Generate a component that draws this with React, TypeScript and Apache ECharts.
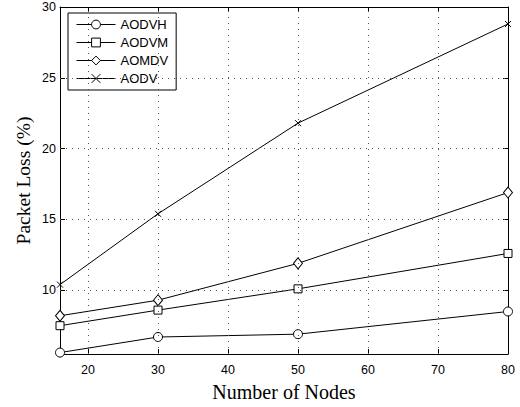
import React, { useEffect, useRef } from "react";
import * as echarts from "echarts";

const nodes = [16, 30, 50, 80];
const aodvh = [5.6, 6.7, 6.9, 8.5];
const aodvm = [7.5, 8.6, 10.1, 12.6];
const aomdv = [8.2, 9.3, 11.9, 16.9];
const aodv = [10.4, 15.4, 21.8, 28.8];
const xTicks = [20, 30, 40, 50, 60, 70, 80];
const yTicks = [10, 15, 20, 25, 30];

const seriesDefs = [
  { name: "AODVH", data: aodvh, symbol: "circle", size: 9 },
  { name: "AODVM", data: aodvm, symbol: "rect", size: 8 },
  { name: "AOMDV", data: aomdv, symbol: "diamond", size: [9, 11] },
  { name: "AODV", data: aodv, symbol: "path://M0,0L10,10M10,0L0,10", size: 6 },
];

export default function App() {
  const ref = useRef<HTMLDivElement>(null);
  useEffect(() => {
    if (!ref.current) return;
    const chart = echarts.init(ref.current, null, { renderer: "svg" });
    const tickFont = { fontFamily: "Liberation Sans", fontSize: 12.5, color: "#000" };
    const axisLine = { show: true, lineStyle: { color: "#000", width: 1 } };
    const gridStyle = { color: "#555", type: [1, 5], width: 1 };
    chart.setOption({
      animation: false,
      backgroundColor: "#fff",
      grid: { left: 60, right: 12, top: 7, bottom: 48, containLabel: false },
      legend: {
        orient: "vertical",
        left: 68,
        top: 13,
        padding: [5, 8, 5, 8],
        itemGap: 5,
        itemWidth: 39,
        itemHeight: 11,
        borderColor: "#000",
        borderWidth: 1,
        backgroundColor: "#fff",
        itemStyle: { borderWidth: 1 },
        lineStyle: { width: 1 },
        textStyle: { fontFamily: "Liberation Sans", fontSize: 13, color: "#000" },
        data: seriesDefs.map((s) => s.name),
      },
      xAxis: [
        {
          type: "value",
          min: 16,
          max: 80,
          position: "bottom",
          axisLine,
          name: "Number of Nodes",
          nameLocation: "middle",
          nameGap: 28,
          nameTextStyle: { fontFamily: "Liberation Serif", fontSize: 20, color: "#000" },
          axisTick: { show: true, inside: true, length: 5, customValues: xTicks, lineStyle: { color: "#000" } },
          axisLabel: { ...tickFont, margin: 9, customValues: xTicks },
          splitLine: { show: false },
        },
        {
          type: "value",
          min: 16,
          max: 80,
          position: "top",
          axisLine,
          axisTick: { show: true, inside: true, length: 5, customValues: xTicks, lineStyle: { color: "#000" } },
          axisLabel: { show: false },
          splitLine: { show: false },
        },
      ],
      yAxis: [
        {
          type: "value",
          min: 5.5,
          max: 30,
          position: "left",
          axisLine,
          name: "Packet Loss (%)",
          nameLocation: "middle",
          nameGap: 27,
          nameMoveOverlap: false,
          nameTextStyle: { fontFamily: "Liberation Serif", fontSize: 19.5, color: "#000" },
          axisTick: { show: true, inside: true, length: 5, customValues: yTicks, lineStyle: { color: "#000" } },
          axisLabel: { ...tickFont, margin: 4, customValues: yTicks },
          splitLine: { show: false },
        },
        {
          type: "value",
          min: 5.5,
          max: 30,
          position: "right",
          axisLine,
          axisTick: { show: true, inside: true, length: 5, customValues: yTicks, lineStyle: { color: "#000" } },
          axisLabel: { show: false },
          splitLine: { show: false },
        },
      ],
      series: [
        {
          name: "grid",
          type: "line",
          data: [],
          silent: true,
          markLine: {
            silent: true,
            symbol: "none",
            label: { show: false },
            lineStyle: gridStyle,
            emphasis: { disabled: true },
            data: [
              ...xTicks.slice(0, -1).map((v) => ({ xAxis: v })),
              ...yTicks.slice(0, -1).map((v) => ({ yAxis: v })),
            ],
          },
          z: 1,
        },
        ...seriesDefs.map((s) => ({
          name: s.name,
          type: "line",
          data: nodes.map((x, i) => [x, s.data[i]]),
          symbol: s.symbol,
          symbolSize: s.size,
          showSymbol: true,
          lineStyle: { color: "#000", width: 1 },
          itemStyle: { color: "#fff", borderColor: "#000", borderWidth: 1 },
          emphasis: { disabled: true },
          z: 3,
        })),
      ],
    });
    return () => chart.dispose();
  }, []);
  return <div ref={ref} style={{ width: 520, height: 407, position: "fixed", left: 0, top: 0 }} />;
}
